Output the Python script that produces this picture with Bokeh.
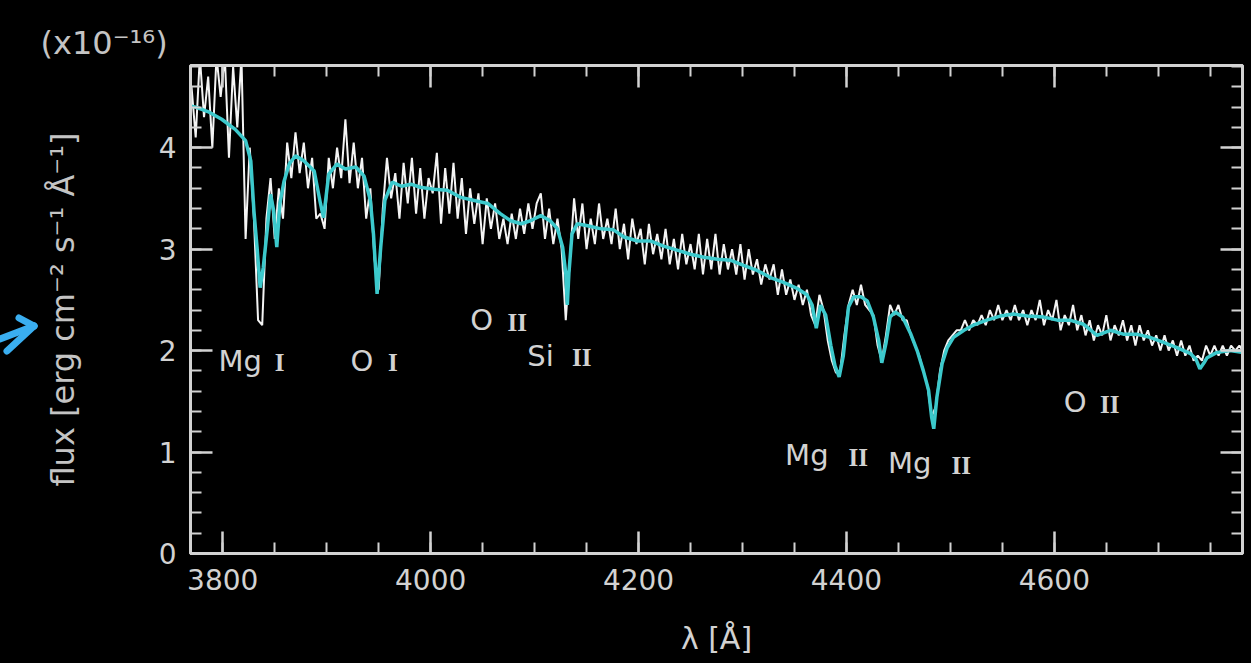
import numpy as np
from bokeh.plotting import figure
from bokeh.layouts import row
from bokeh.models import (LinearAxis, SingleIntervalTicker, ColumnDataSource, Range1d,
                          CustomJSTickFormatter, Div)
from bokeh.core.properties import value
from bokeh.embed import file_html
from bokeh.resources import INLINE

# ---------------- data ----------------
# observed spectrum (white), sampled every 4 Angstrom starting at 3770
obs_start = 3770
obs_step = 4
obs_flux = [
    4.6, 4.1, 4.9, 4.3, 4.7, 4.0, 4.9, 4.5, 4.9, 3.9, 4.8, 4.2, 4.9, 3.1, 4.0, 3.3,
    2.3, 2.25, 3.3, 3.7, 3.1, 3.6, 3.3, 4.05, 3.7, 4.15, 3.75, 4.05, 3.6, 3.9, 3.3, 3.35,
    3.2, 3.9, 3.6, 4.0, 3.7, 4.28, 3.65, 4.05, 3.6, 3.9, 3.3, 3.6, 2.9, 2.6, 3.4, 3.9,
    3.5, 3.75, 3.3, 3.85, 3.45, 3.9, 3.35, 3.8, 3.3, 3.7, 3.55, 3.95, 3.25, 3.8, 3.35, 3.85,
    3.3, 3.7, 3.15, 3.6, 3.25, 3.55, 3.05, 3.5, 3.2, 3.45, 3.1, 3.3, 3.05, 3.35, 3.1, 3.4,
    3.15, 3.45, 3.2, 3.45, 3.55, 3.1, 3.4, 3.05, 3.3, 3.0, 2.3, 2.9, 3.5, 3.1, 3.45, 3.0,
    3.3, 3.05, 3.45, 3.1, 3.3, 3.05, 3.4, 3.0, 3.25, 2.9, 3.3, 3.05, 3.2, 2.85, 3.25, 2.95,
    3.15, 2.9, 3.2, 2.85, 3.1, 2.8, 3.15, 2.85, 3.05, 2.8, 3.15, 2.75, 3.1, 2.8, 3.15, 2.75,
    3.05, 2.8, 3.0, 2.75, 3.05, 2.7, 3.0, 2.75, 2.9, 2.65, 2.85, 2.7, 2.85, 2.55, 2.8, 2.55,
    2.7, 2.5, 2.65, 2.45, 2.6, 2.35, 2.25, 2.55, 2.4, 2.1, 1.9, 1.78, 1.8, 2.15, 2.45, 2.6,
    2.45, 2.65, 2.45, 2.4, 2.35, 2.05, 1.9, 2.15, 2.45, 2.35, 2.45, 2.3, 2.3, 2.15, 2.05, 1.95,
    1.8, 1.65, 1.35, 1.45, 1.8, 2.0, 2.1, 2.15, 2.2, 2.2, 2.3, 2.2, 2.3, 2.25, 2.35, 2.25,
    2.4, 2.3, 2.45, 2.3, 2.4, 2.3, 2.45, 2.3, 2.4, 2.25, 2.4, 2.3, 2.5, 2.25, 2.4, 2.3,
    2.5, 2.2, 2.35, 2.25, 2.45, 2.2, 2.35, 2.15, 2.3, 2.1, 2.25, 2.15, 2.35, 2.1, 2.25, 2.15,
    2.3, 2.1, 2.25, 2.05, 2.25, 2.1, 2.2, 2.05, 2.15, 2.0, 2.15, 2.0, 2.1, 1.95, 2.1, 1.95,
    2.05, 1.9, 1.95, 1.9, 2.05, 1.95, 2.05, 1.95, 2.05, 1.95, 2.05, 2.0, 2.05, 1.98,
]
obs_wave = obs_start + obs_step * np.arange(len(obs_flux))

# model spectrum (cyan)
model_wave = [
    3770, 3774, 3787, 3799, 3812, 3822, 3827, 3830, 3833, 3836, 3839, 3843, 3846, 3849,
    3852, 3855, 3859, 3864, 3870, 3878, 3888, 3894, 3897, 3902, 3910, 3918, 3928, 3936,
    3942, 3945, 3948.5, 3952, 3956, 3963, 3972, 3981, 3990, 4003, 4016, 4029, 4042, 4055,
    4067, 4077, 4087, 4096, 4106, 4115, 4122, 4127, 4130, 4131.5, 4133, 4136, 4141, 4151,
    4164, 4176, 4186, 4199, 4212, 4224, 4237, 4250, 4263, 4276, 4289, 4301, 4314, 4327,
    4340, 4353, 4362, 4367, 4371, 4375, 4380, 4385, 4389, 4393, 4397, 4402, 4407, 4414,
    4420, 4426, 4431, 4434, 4438, 4442, 4447, 4454, 4462, 4468, 4474, 4479, 4482, 4484,
    4487, 4492, 4497, 4503, 4513, 4522, 4535, 4548, 4561, 4574, 4590, 4603, 4615, 4628,
    4641, 4654, 4667, 4680, 4692, 4705, 4718, 4731, 4736, 4740, 4744, 4747, 4756, 4769,
    4782,
]
model_flux = [
    4.41, 4.40, 4.35, 4.28, 4.18, 4.07, 3.87, 3.38, 3.02, 2.62, 2.82, 3.21, 3.54, 3.38,
    3.02, 3.45, 3.67, 3.84, 3.92, 3.87, 3.77, 3.45, 3.31, 3.74, 3.84, 3.79, 3.81, 3.72,
    3.48, 3.15, 2.56, 3.02, 3.48, 3.66, 3.62, 3.64, 3.61, 3.59, 3.58, 3.51, 3.48, 3.45,
    3.35, 3.28, 3.25, 3.28, 3.33, 3.28, 3.20, 3.02, 2.76, 2.45, 2.76, 3.15, 3.25, 3.23,
    3.20, 3.19, 3.12, 3.08, 3.08, 3.03, 2.99, 2.95, 2.92, 2.90, 2.89, 2.84, 2.79, 2.72,
    2.67, 2.61, 2.55, 2.45, 2.22, 2.45, 2.35, 2.05, 1.85, 1.74, 1.95, 2.43, 2.53, 2.53,
    2.49, 2.33, 2.10, 1.88, 2.07, 2.33, 2.38, 2.33, 2.16, 2.00, 1.80, 1.61, 1.34, 1.23,
    1.54, 1.87, 2.03, 2.13, 2.20, 2.25, 2.30, 2.34, 2.36, 2.34, 2.33, 2.30, 2.30, 2.26,
    2.15, 2.20, 2.16, 2.16, 2.13, 2.08, 2.03, 1.97, 1.92, 1.82, 1.88, 1.93, 1.98, 2.00,
    1.98,
]

# line identifications
line_elem = ["Mg", "O", "O", "Si", "Mg", "Mg", "O"]
line_ion = ["I", "I", "II", "II", "II", "II", "II"]
elem_x = [3796, 3923, 4038, 4093, 4341, 4440, 4609]
ion_x = [3850, 3959, 4074, 4136, 4402, 4501, 4644]
label_y = [1.90, 1.90, 2.30, 1.95, 0.97, 0.89, 1.49]

x_ticks_interval = 200
y_ticks_interval = 1

# ---------------- figure ----------------
FG = "#d2d2d2"
STRIP = 40
p = figure(width=1251 - STRIP, height=663, output_backend="svg", toolbar_location=None,
           x_range=Range1d(3769, 4781), y_range=Range1d(0, 4.81),
           background_fill_color="black", border_fill_color="black",
           min_border_left=190 - STRIP, min_border_right=9, min_border_top=65,
           min_border_bottom=110)
p.grid.visible = False
p.outline_line_color = FG
p.outline_line_width = 3

p.line(obs_wave, obs_flux, line_color="#f4f4f4", line_width=2)
p.line(model_wave, model_flux, line_color="#3cc9cc", line_width=3.5)

src_e = ColumnDataSource(dict(x=elem_x, y=label_y, t=line_elem))
src_i = ColumnDataSource(dict(x=ion_x, y=label_y, t=line_ion))
p.text(x="x", y="y", text="t", source=src_e, text_color=FG,
       text_font=value("DejaVu Sans"), text_font_size="29px",
       text_baseline="middle", text_align="left")
p.text(x="x", y="y", text="t", source=src_i, text_color=FG,
       text_font=value("Liberation Serif"), text_font_size="25px",
       text_font_style="bold", text_baseline="middle", text_align="left", y_offset=2)

def style_axis(ax, labels=True):
    ax.axis_line_color = FG
    ax.axis_line_width = 3
    ax.major_tick_line_color = FG
    ax.minor_tick_line_color = FG
    ax.major_tick_line_width = 2.5
    ax.minor_tick_line_width = 2
    ax.major_tick_in = 22
    ax.major_tick_out = 0
    ax.minor_tick_in = 11
    ax.minor_tick_out = 0
    if labels:
        ax.major_label_text_color = FG
        ax.major_label_text_font = "DejaVu Sans"
        ax.major_label_text_font_size = "28px"
    else:
        ax.formatter = CustomJSTickFormatter(code="return ''")
        ax.major_label_text_color = None
        ax.major_label_standoff = 0

xt = SingleIntervalTicker(interval=x_ticks_interval, num_minor_ticks=4)
yt = SingleIntervalTicker(interval=y_ticks_interval, num_minor_ticks=5)

p.xaxis.ticker = xt
p.yaxis.ticker = yt
style_axis(p.xaxis[0])
style_axis(p.yaxis[0])
p.xaxis.major_label_standoff = 15
p.yaxis.major_label_standoff = 14
p.xaxis.axis_label = "λ [Å]"
p.xaxis.axis_label_text_font = "DejaVu Sans"
p.xaxis.axis_label_text_font_style = "normal"
p.xaxis.axis_label_text_font_size = "30px"
p.xaxis.axis_label_text_color = FG
p.xaxis.axis_label_standoff = 28
p.yaxis.axis_label = "flux [erg cm⁻² s⁻¹ Å⁻¹]"
p.yaxis.axis_label_text_font = "DejaVu Sans"
p.yaxis.axis_label_text_font_style = "normal"
p.yaxis.axis_label_text_font_size = "32px"
p.yaxis.axis_label_text_color = "#c4c4c4"
p.yaxis.axis_label_standoff = 74

top = LinearAxis(ticker=SingleIntervalTicker(interval=x_ticks_interval, num_minor_ticks=4))
style_axis(top, labels=False)
p.add_layout(top, "above")
right = LinearAxis(ticker=SingleIntervalTicker(interval=y_ticks_interval, num_minor_ticks=5))
style_axis(right, labels=False)
p.add_layout(right, "right")

# scale factor note as the plot's title, pulled to the left margin
p.title.text = "(x10⁻¹⁶)"
p.title.align = "left"
p.title.offset = -150
p.title.text_color = "#c4c4c4"
p.title.text_font = "DejaVu Sans"
p.title.text_font_style = "normal"
p.title.text_font_size = "32px"
p.title.standoff = 8

# narrow strip holding the pointer arrow (plain SVG, not data)
arrow_svg = (
    '<svg xmlns="http://www.w3.org/2000/svg" width="40" height="663" '
    'style="display:block;background:#000">'
    '<g stroke="#3aaef0" stroke-width="7" stroke-linecap="round" fill="none">'
    '<line x1="0" y1="339" x2="34" y2="326"/>'
    '<line x1="19" y1="318" x2="34" y2="326"/>'
    '<line x1="7" y1="351" x2="34" y2="326"/>'
    '</g></svg>'
)
strip = Div(text=arrow_svg, width=STRIP, height=663,
            styles={"background-color": "black", "margin": "0", "padding": "0"})

layout = row(strip, p, styles={"background-color": "black"})
open("out.html", "w").write(file_html(layout, INLINE))
